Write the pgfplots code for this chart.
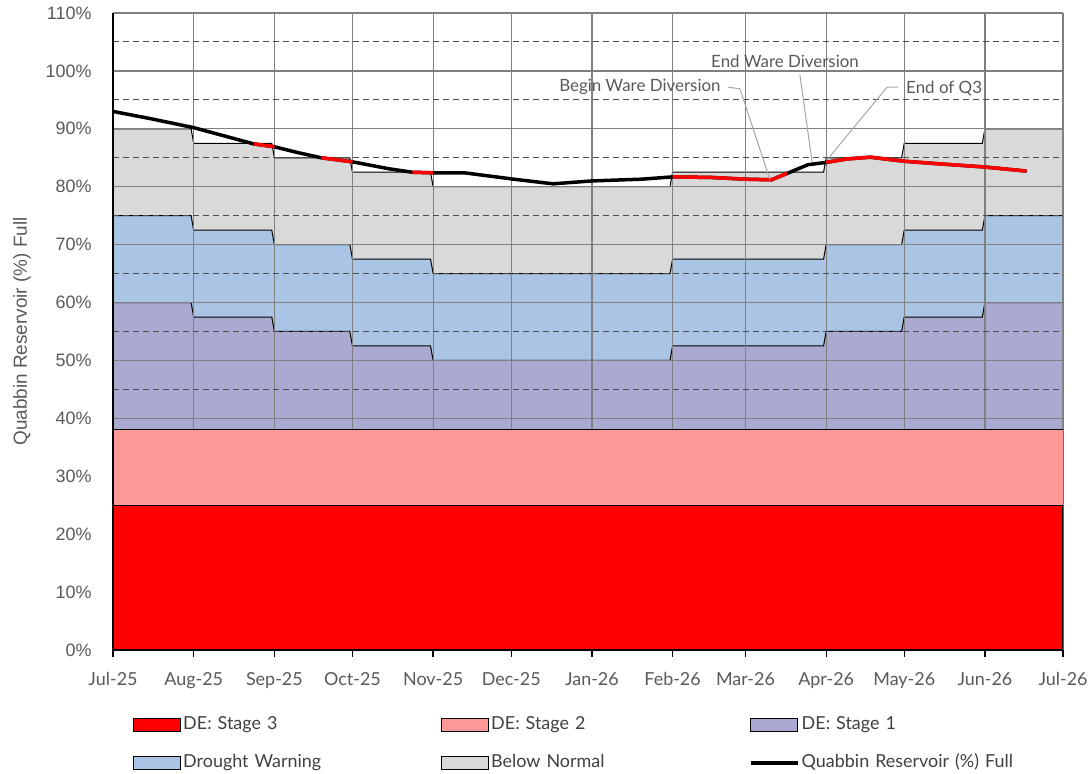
\documentclass[border=0pt]{standalone}
\usepackage{pgfplots}
\pgfplotsset{compat=1.18}
\usepackage{pgfplotstable}
\usepackage{fontspec}
\setmainfont{Lato}
\newfontfamily\arialf{Liberation Sans}
\definecolor{bngrey}{HTML}{D9D9D9}
\definecolor{dwblue}{HTML}{A9C4E4}
\definecolor{sonepurple}{HTML}{A9A9D2}
\definecolor{stwopink}{HTML}{FF9999}
\definecolor{stthree}{HTML}{FF0000}
\definecolor{txtgrey}{HTML}{595959}
\definecolor{legtxt}{HTML}{404040}
\definecolor{gridgrey}{HTML}{808080}
\definecolor{leadgrey}{HTML}{A6A6A6}

% Below Normal upper bound
\pgfplotstableread{
day val
0 90
30 90
31 87.5
61 87.5
62 85
91 85
92 82.5
122 82.5
123 80
214 80
215 82.5
273 82.5
274 85
303 85
304 87.5
334 87.5
335 90
365 90
}\bntable
% Drought Warning upper bound
\pgfplotstableread{
day val
0 75
30 75
31 72.5
61 72.5
62 70
91 70
92 67.5
122 67.5
123 65
214 65
215 67.5
273 67.5
274 70
303 70
304 72.5
334 72.5
335 75
365 75
}\dwtable
% DE Stage 1 upper bound
\pgfplotstableread{
day val
0 60
30 60
31 57.5
61 57.5
62 55
91 55
92 52.5
122 52.5
123 50
214 50
215 52.5
273 52.5
274 55
303 55
304 57.5
334 57.5
335 60
365 60
}\sonetable
% DE Stage 2 upper bound
\pgfplotstableread{
day val
0 38
365 38
}\stwotable
% DE Stage 3 upper bound
\pgfplotstableread{
day val
0 25
365 25
}\sthreetable
% Quabbin Reservoir (%) Full
\pgfplotstableread{
day val
0 93.0
15 91.7
31 90.2
45 88.5
54 87.4
62 86.9
70 86.0
80 85.0
92 84.3
106 83.1
115 82.5
123 82.4
135 82.4
154 81.3
169 80.5
184 81.0
203 81.3
215 81.7
230 81.6
243 81.3
253 81.2
259 82.3
267 83.8
274 84.2
282 84.8
291 85.1
304 84.4
319 83.9
335 83.4
351 82.7
}\restable

\pgfplotsset{
  myarea/.style={legend image code/.code={\draw[##1, line width=1bp] (0bp,-6.5bp) rectangle (47bp,6.5bp);}},
  myline/.style={legend image code/.code={\draw[##1] (0bp,0bp) -- (47bp,0bp);}},
}

\begin{document}
\begin{tikzpicture}
\begin{axis}[
  set layers,
  scale only axis, width=950bp, height=637bp,
  at={(113bp,124bp)}, anchor=south west,
  xmin=0, xmax=365, ymin=0, ymax=110,
  axis x line*=bottom, axis y line*=left,
  axis line style={black, line width=1.5bp},
  xtick={0,31,62,92,123,153,184,215,243,274,304,335,365},
  xticklabels={Jul-25,Aug-25,Sep-25,Oct-25,Nov-25,Dec-25,Jan-26,Feb-26,Mar-26,Apr-26,May-26,Jun-26,Jul-26},
  ytick={0,10,20,30,40,50,60,70,80,90,100,110},
  yticklabels={0\%,10\%,20\%,30\%,40\%,50\%,60\%,70\%,80\%,90\%,100\%,110\%},
  minor ytick={5,15,25,35,45,55,65,75,85,95,105},
  xmajorgrids, ymajorgrids, yminorgrids,
  major grid style={gridgrey, line width=1.2bp},
  minor grid style={black!70, line width=1bp, dash pattern=on 6bp off 4bp},
  tick align=outside,
  xtick style={black, line width=1.3bp},
  ytick style={draw=none},
  major tick length=7bp,
  minor tick length=0pt,
  xticklabel style={font=\fontsize{18}{20}\selectfont, text=txtgrey, yshift=-12bp},
  yticklabel style={font=\arialf\fontsize{18}{20}\selectfont, text=txtgrey, xshift=-11bp},
  ylabel={Quabbin Reservoir (\%) Full},
  every axis y label/.style={at={(axis description cs:-0.0958,0.5)}, rotate=90, anchor=center,
    font=\arialf\fontsize{19}{22}\selectfont, text=txtgrey},
  legend columns=3,
  legend cell align=left,
  legend style={at={(axis description cs:0.0211,-0.1013)}, anchor=north west,
    draw=none, fill=none, inner sep=0pt, row sep=17bp,
    nodes={text width=256bp, inner sep=2bp, text height=13bp, text depth=4bp,
      font=\fontsize{18}{20}\selectfont, text=legtxt}},
]
\addlegendimage{myarea, fill=stthree, draw=black}
\addlegendimage{myarea, fill=stwopink, draw=black}
\addlegendimage{myarea, fill=sonepurple, draw=black}
\addlegendimage{myarea, fill=dwblue, draw=black}
\addlegendimage{myarea, fill=bngrey, draw=black}
\addlegendimage{myline, black, line width=3.5bp}
\legend{DE: Stage 3, DE: Stage 2, DE: Stage 1, Drought Warning, Below Normal, Quabbin Reservoir (\%) Full}

\addplot[on layer=axis background, fill=bngrey, draw=black, line width=1bp, forget plot] table[x=day,y=val] {\bntable} \closedcycle;
\addplot[on layer=axis background, fill=dwblue, draw=black, line width=1bp, forget plot] table[x=day,y=val] {\dwtable} \closedcycle;
\addplot[on layer=axis background, fill=sonepurple, draw=black, line width=1bp, forget plot] table[x=day,y=val] {\sonetable} \closedcycle;
\addplot[fill=stwopink, draw=black, line width=1bp, forget plot] table[x=day,y=val] {\stwotable} \closedcycle;
\addplot[fill=stthree, draw=black, line width=1.3bp, forget plot] table[x=day,y=val] {\sthreetable} \closedcycle;

\addplot[black, line width=3.5bp, line join=round, forget plot] table[x=day,y=val] {\restable};
\addplot[stthree, line width=3.5bp, line join=round, restrict x to domain=54:62, forget plot] table[x=day,y=val] {\restable};
\addplot[stthree, line width=3.5bp, line join=round, restrict x to domain=80:92, forget plot] table[x=day,y=val] {\restable};
\addplot[stthree, line width=3.5bp, line join=round, restrict x to domain=115:123, forget plot] table[x=day,y=val] {\restable};
\addplot[stthree, line width=3.5bp, line join=round, restrict x to domain=215:259, forget plot] table[x=day,y=val] {\restable};
\addplot[stthree, line width=3.5bp, line join=round, restrict x to domain=274:351, forget plot] table[x=day,y=val] {\restable};

\draw[leadgrey, line width=1bp] (axis cs:236.3,97.2) -- (axis cs:240.9,96.9) -- (axis cs:252.4,81.2);
\node[anchor=east, font=\fontsize{17}{19}\selectfont, text=txtgrey, inner sep=1bp] at (axis cs:233.9,97.2) {Begin Ware Diversion};
\draw[leadgrey, line width=1bp] (axis cs:263.9,99.3) -- (axis cs:268.6,84.3);
\node[anchor=center, font=\fontsize{17}{19}\selectfont, text=txtgrey, inner sep=1bp] at (axis cs:258.2,101.7) {End Ware Diversion};
\draw[leadgrey, line width=1bp] (axis cs:301.6,97.2) -- (axis cs:297.4,97.2) -- (axis cs:274.3,84.6);
\node[anchor=west, font=\fontsize{17}{19}\selectfont, text=txtgrey, inner sep=1bp] at (axis cs:304.3,97.0) {End of Q3};
\end{axis}
\pgfresetboundingbox
\path (0,0) rectangle (1090bp,774bp);
\end{tikzpicture}
\end{document}
